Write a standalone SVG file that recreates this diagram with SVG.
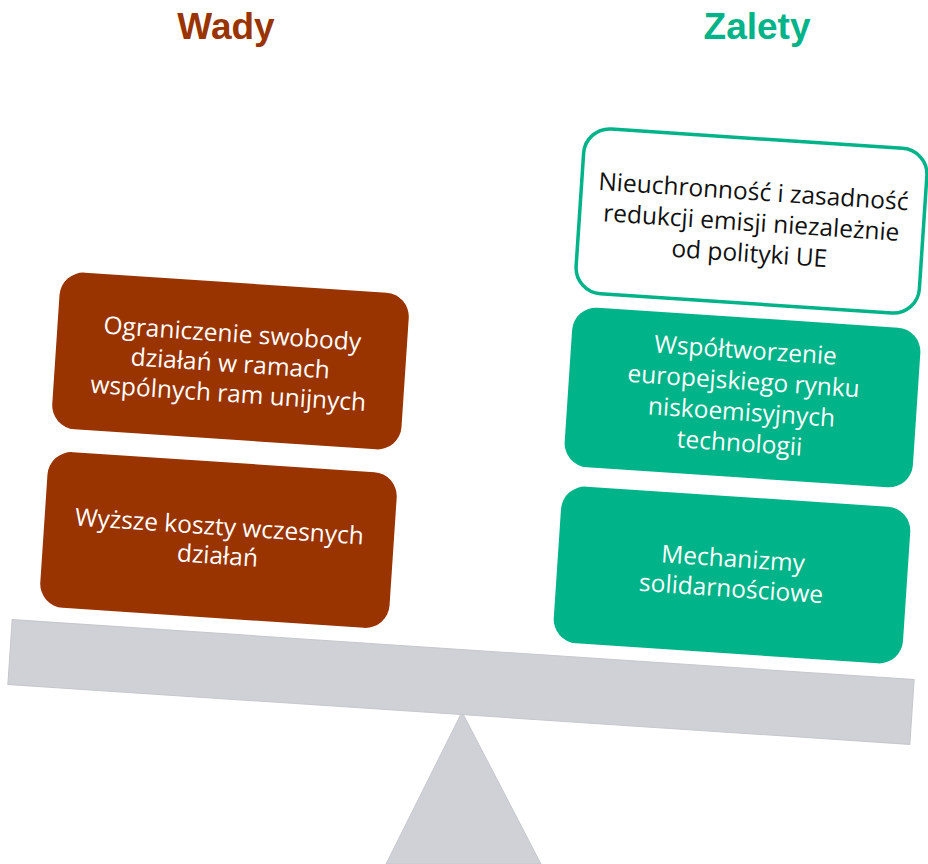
<svg xmlns="http://www.w3.org/2000/svg" width="928" height="864" viewBox="0 0 928 864">
  <style>
    .title { font-family: "Liberation Sans", Arial, sans-serif; font-weight: bold; font-size: 37px; text-anchor: middle; }
    .lbl { font-family: "Open Sans", "Noto Sans", sans-serif; font-size: 24.5px; text-anchor: middle; }
    .wh { fill: #ffffff; }
    .bk { fill: #111111; }
    .brown { fill: #993300; }
    .green { fill: #00B388; }
    .outline { fill: #ffffff; stroke: #00B388; stroke-width: 3.5; }
    .gray { fill: #D0D1D6; stroke: #C6C7CC; stroke-width: 1; }
  </style>
  <rect width="928" height="864" fill="#ffffff"/>

  <g id="titles">
    <text class="title" x="226" y="39" fill="#993300">Wady</text>
    <text class="title" x="757" y="39" fill="#00B388">Zalety</text>
  </g>

  <g id="seesaw">
    <polygon class="gray" points="462,712 386,864 541,864"/>
    <rect class="gray" x="-452" y="-32.5" width="904" height="65" transform="translate(461,682) rotate(3.8)"/>
  </g>

  <g id="wada1" transform="translate(230.5,361) rotate(3.8)">
    <rect class="brown" x="-175" y="-78.5" width="350" height="157" rx="24"/>
    <text class="lbl wh" x="0" y="-19">Ograniczenie swobody</text>
    <text class="lbl wh" x="0" y="11">działań w ramach</text>
    <text class="lbl wh" x="0" y="41">wspólnych ram unijnych</text>
  </g>

  <g id="wada2" transform="translate(218.5,540) rotate(3.8)">
    <rect class="brown" x="-175" y="-78" width="350" height="156" rx="24"/>
    <text class="lbl wh" x="0" y="-5">Wyższe koszty wczesnych</text>
    <text class="lbl wh" x="0" y="24">działań</text>
  </g>

  <g id="zaleta1" transform="translate(751.5,221) rotate(3.8)">
    <rect class="outline" x="-172" y="-82.5" width="344" height="165" rx="26"/>
    <text class="lbl bk" x="0" y="-21">Nieuchronność i zasadność</text>
    <text class="lbl bk" x="0" y="10">redukcji emisji niezależnie</text>
    <text class="lbl bk" x="0" y="41">od polityki UE</text>
  </g>

  <g id="zaleta2" transform="translate(742.5,397.5) rotate(3.8)">
    <rect class="green" x="-174.5" y="-80" width="349" height="160" rx="24"/>
    <text class="lbl wh" x="0" y="-39">Współtworzenie</text>
    <text class="lbl wh" x="0" y="-8">europejskiego rynku</text>
    <text class="lbl wh" x="0" y="23">niskoemisyjnych</text>
    <text class="lbl wh" x="0" y="54">technologii</text>
  </g>

  <g id="zaleta3" transform="translate(732,575) rotate(3.8)">
    <rect class="green" x="-175" y="-78.5" width="350" height="157" rx="24"/>
    <text class="lbl wh" x="0" y="-8">Mechanizmy</text>
    <text class="lbl wh" x="0" y="22">solidarnościowe</text>
  </g>

  <g id="connectors"></g>
</svg>
